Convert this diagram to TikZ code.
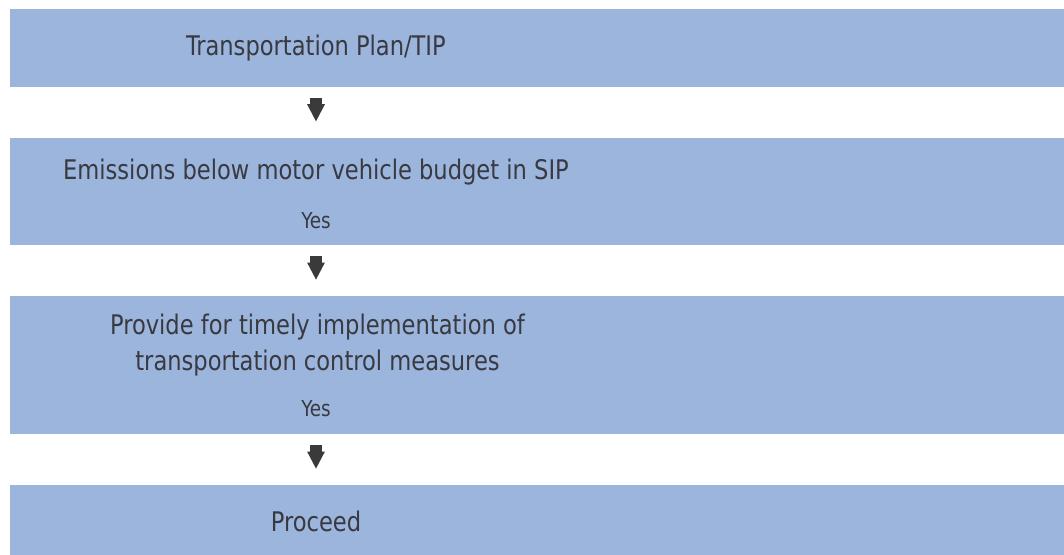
\documentclass[tikz,border=0pt]{standalone}
\usepackage{fontspec}
\setmainfont[FakeStretch=0.93]{DejaVu Sans Condensed}
\usepackage{xcolor}
\usetikzlibrary{arrows.meta,positioning}
\definecolor{bandblue}{HTML}{9BB5DC}
\definecolor{inkgray}{HTML}{393941}
\definecolor{arrowgray}{HTML}{3A3A3A}

\begin{document}
\begin{tikzpicture}[x=1pt,y=-1pt,
  band/.style={fill=bandblue, inner sep=0pt, minimum width=1054pt, anchor=north west},
  stage/.style={text=inkgray, inner sep=0pt, anchor=base, align=center, font=\fontsize{27}{36.4}\selectfont},
  answer/.style={text=inkgray, inner sep=0pt, anchor=base, font=\fontsize{22}{26}\selectfont},
  down/.style={draw=arrowgray, line width=12.5pt, -{Triangle[width=16.5pt,length=17.5pt]}}]
\useasboundingbox (0,0) rectangle (1064,554);
\node[band, minimum height=77.7pt] (plan) at (10,9) {};
\node[band, minimum height=106.6pt] (budget) at (10,137.7) {};
\node[band, minimum height=137.3pt] (tcm) at (10,296) {};
\node[band, minimum height=75pt] (go) at (10,485) {};
\node[stage] (plantxt) at (316,55) {Transportation Plan/TIP};
\node[stage] (budgettxt) at (316,179.3) {Emissions below motor vehicle budget in SIP};
\node[answer] (yes1) at (316,228) {Yes};
\node[stage] (tcmtxt) at (317.5,370.7) {Provide for timely implementation of\\transportation control measures};
\node[answer] (yes2) at (316,416.7) {Yes};
\node[stage] (gotxt) at (316,531.7) {Proceed};
\draw[down] ([yshift=-10.5pt]plan.south -| plantxt.base) -- ([yshift=16pt]budget.north -| plantxt.base);
\draw[down] ([yshift=-11pt]budget.south -| yes1.base) -- ([yshift=16pt]tcm.north -| yes1.base);
\draw[down] ([yshift=-11pt]tcm.south -| yes2.base) -- ([yshift=16pt]go.north -| yes2.base);
\end{tikzpicture}
\end{document}
